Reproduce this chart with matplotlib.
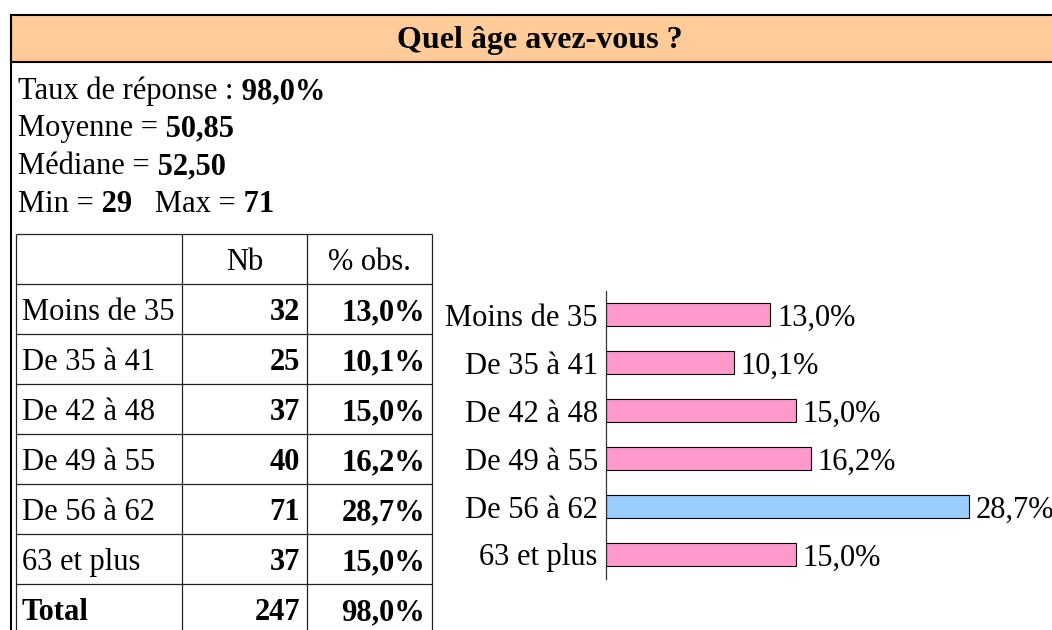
import matplotlib
matplotlib.use("Agg")
import matplotlib.pyplot as plt
from matplotlib.patches import Rectangle

plt.rcParams['font.family'] = ['Liberation Serif', 'DejaVu Serif']

# ---------------- data ----------------
title = "Quel âge avez-vous ?"
categories = ["Moins de 35", "De 35 à 41", "De 42 à 48", "De 49 à 55", "De 56 à 62", "63 et plus"]
counts = [32, 25, 37, 40, 71, 37]
percents = [13.0, 10.1, 15.0, 16.2, 28.7, 15.0]
col_headers = ["", "Nb", "% obs."]
total_label = "Total"
total_count = 247
total_percent = 98.0
response_rate = 98.0
mean_age = 50.85
median_age = 52.50
min_age = 29
max_age = 71

PINK = "#FF99CC"
BLUE = "#99CCFF"
HEADER_BG = "#FFCC99"


def fr(v, d=1):
    return f"{v:.{d}f}".replace(".", ",")


W, H = 1052, 630
FS = 22
fig = plt.figure(figsize=(W / 100, H / 100), dpi=100)
ax0 = fig.add_axes([0, 0, 1, 1])
ax0.set_xlim(0, W)
ax0.set_ylim(H, 0)
ax0.axis("off")

# header band
ax0.add_patch(Rectangle((11, 15), W, 47, fc=HEADER_BG, ec="black", lw=1.5))
ax0.text(540, 48, title, fontsize=23, fontweight="bold", ha="center", va="baseline")
# left frame line
ax0.plot([11, 11], [15, H], color="black", lw=1.5, solid_capstyle="butt")

renderer = fig.canvas.get_renderer()


def mixed(x, y, parts):
    for txt, bold in parts:
        t = ax0.text(x, y, txt, fontsize=FS, fontweight="bold" if bold else "normal",
                     ha="left", va="baseline")
        bb = t.get_window_extent(renderer)
        x += bb.width


mixed(18, 99, [("Taux de réponse :", False), (" " + fr(response_rate) + "%", True)])
mixed(18, 136, [("Moyenne =", False), (" " + fr(mean_age, 2), True)])
mixed(18, 174, [("Médiane =", False), (" " + fr(median_age, 2), True)])
mixed(18, 212, [("Min =", False), (" " + str(min_age), True), ("   Max =", False), (" " + str(max_age), True)])

# ---------------- table ----------------
col_x = [16, 182, 307, 432]
row_top = 234
row_h = 50
n_rows = len(categories) + 2
line_kw = dict(color="#222222", lw=0.9, solid_capstyle="butt")
for i in range(n_rows + 1):
    y = row_top + i * row_h
    ax0.plot([col_x[0], col_x[-1]], [y, y], **line_kw)
for x in col_x:
    ax0.plot([x, x], [row_top, H + 5], **line_kw)

# header row
for j, h in enumerate(col_headers):
    if h:
        ax0.text((col_x[j] + col_x[j + 1]) / 2, row_top + 36, h, fontsize=FS,
                 ha="center", va="baseline")

rows = [(c, n, p) for c, n, p in zip(categories, counts, percents)]
rows.append((total_label, total_count, total_percent))
for i, (c, n, p) in enumerate(rows):
    yb = row_top + (i + 1) * row_h + 36
    is_total = (i == len(rows) - 1)
    ax0.text(col_x[0] + 6, yb, c, fontsize=FS, ha="left", va="baseline",
             fontweight="bold" if is_total else "normal")
    ax0.text(col_x[2] - 7, yb, str(n), fontsize=FS, ha="right", va="baseline", fontweight="bold")
    ax0.text(col_x[3] - 7, yb, fr(p) + "%", fontsize=FS, ha="right", va="baseline", fontweight="bold")

# ---------------- bar chart ----------------
ax_left, ax_right = 606, 606 + 12.65 * 30
ax_top, ax_bot = 290.5, 578.5
ax = fig.add_axes([ax_left / W, 1 - ax_bot / H, (ax_right - ax_left) / W, (ax_bot - ax_top) / H])
ax.patch.set_alpha(0)
ypos = list(range(len(categories)))
maxv = max(percents)
colors = [BLUE if v == maxv else PINK for v in percents]
bars = ax.barh(ypos, percents, height=0.48, color=colors, edgecolor="black", linewidth=0.8)
ax.set_xlim(0, 30)
ax.set_ylim(len(categories) - 0.5, -0.5)
ax.set_yticks(ypos)
ax.set_yticklabels(categories, fontsize=FS, va="center_baseline")
ax.tick_params(axis="y", length=0, pad=6)
ax.set_xticks([])
for s in ["top", "right", "bottom"]:
    ax.spines[s].set_visible(False)
ax.spines["left"].set_color("#333333")
ax.spines["left"].set_linewidth(0.9)
labels = ax.bar_label(bars, labels=[fr(v) + "%" for v in percents], padding=5, fontsize=FS, clip_on=False)
for t in labels:
    t.set_va("center_baseline")

fig.savefig("out.png", dpi=100)
